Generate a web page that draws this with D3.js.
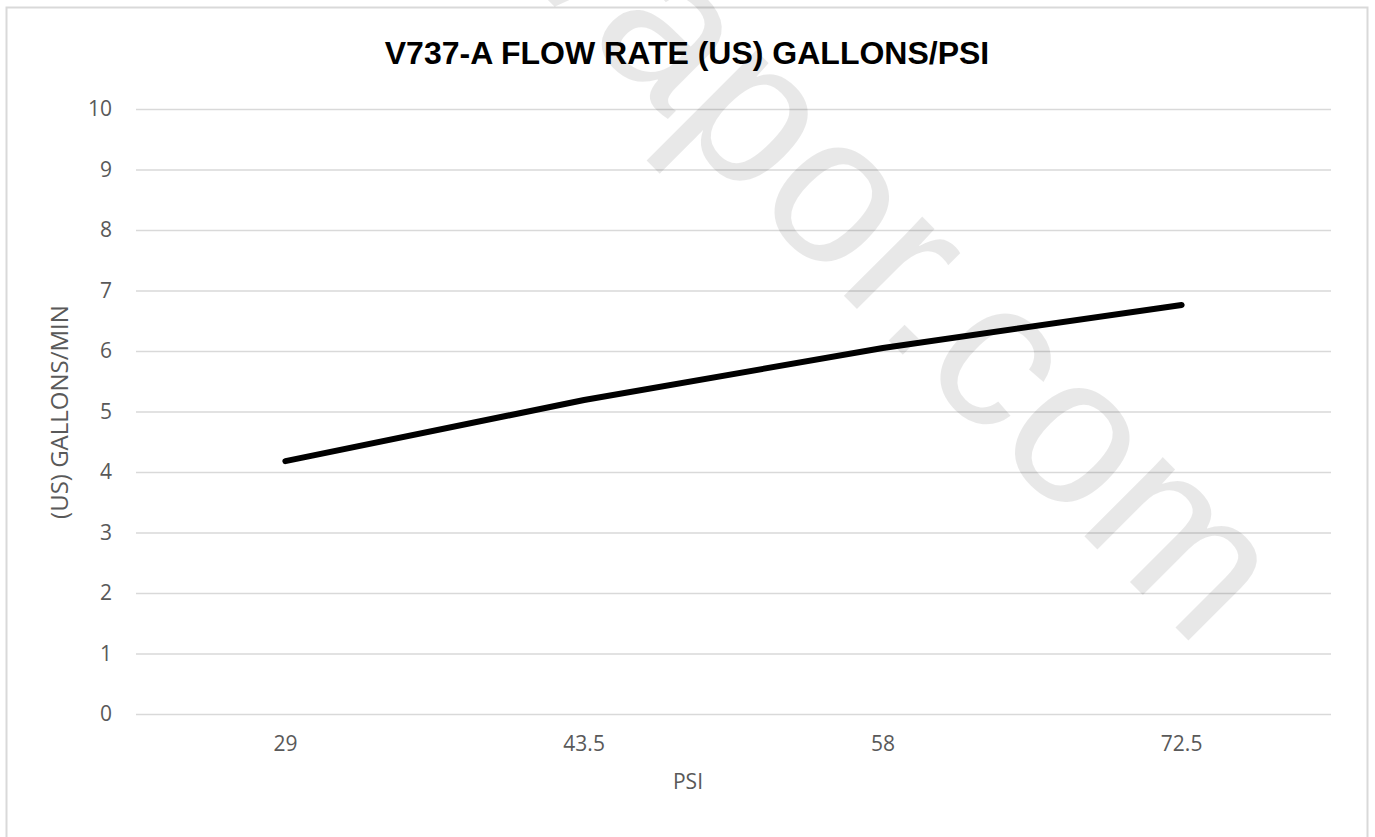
<!DOCTYPE html>
<html><head><meta charset="utf-8">
<script src="https://cdn.jsdelivr.net/npm/d3@7"></script>
<style>body{margin:0;background:#fff}svg{display:block}</style>
</head><body>
<script>
const categories = ["29", "43.5", "58", "72.5"];
const flowValues = [4.18, 5.19, 6.05, 6.76];
const yTicks = [0,1,2,3,4,5,6,7,8,9,10];
const title = "V737-A FLOW RATE (US) GALLONS/PSI";
const xLabel = "PSI";
const yLabel = "(US) GALLONS/MIN";
const watermark = "vapor.com";

const W = 1375, H = 837;
const m = {left:136, right:1331, top:109, bottom:714};
const svg = d3.select("body").append("svg").attr("width", W).attr("height", H);
svg.append("rect").attr("x",6.5).attr("y",7.5).attr("width",1361).attr("height",840)
  .attr("fill","#fff").attr("stroke","#d9d9d9").attr("stroke-width",2);

const x = d3.scaleBand().domain(categories).range([m.left, m.right]).padding(0);
const y = d3.scaleLinear().domain([0,10]).range([m.bottom, m.top]);

const tickFont = "'Open Sans', sans-serif";
const ya = svg.append("g").attr("transform",`translate(${m.left},0)`)
  .call(d3.axisLeft(y).tickValues(yTicks).tickSize(-(m.right-m.left)).tickPadding(24));
ya.select(".domain").remove();
ya.selectAll("line").attr("stroke","#d9d9d9").attr("stroke-width",1.5);
ya.selectAll("text").attr("fill","#595959").style("font-family",tickFont).style("font-size","21px");

const xa = svg.append("g").attr("transform",`translate(0,${m.bottom})`)
  .call(d3.axisBottom(x).tickSize(0).tickPadding(22));
xa.select(".domain").remove();
xa.selectAll("text").attr("fill","#595959").style("font-family",tickFont).style("font-size","21px");

svg.append("text").attr("x",687).attr("y",64).attr("text-anchor","middle")
  .style("font-family","'Liberation Sans', Arial, sans-serif").style("font-weight","bold").style("font-size","32px")
  .attr("fill","#000").text(title);
svg.append("text").attr("x",688).attr("y",789).attr("text-anchor","middle")
  .style("font-family",tickFont).style("font-size","21px").attr("fill","#595959").text(xLabel);
svg.append("text").attr("transform","translate(68,412) rotate(-90)").attr("text-anchor","middle")
  .style("font-family",tickFont).style("font-size","24px").attr("fill","#595959").text(yLabel);

const line = d3.line().x((d,i)=>x(categories[i])+x.bandwidth()/2).y(d=>y(d));
svg.append("path").datum(flowValues).attr("d",line).attr("fill","none")
  .attr("stroke","#000").attr("stroke-width",6).attr("stroke-linecap","round").attr("stroke-linejoin","round");

svg.append("text").attr("transform","translate(510,-38) rotate(45)")
  .style("font-family","'Liberation Sans', Arial, sans-serif").style("font-size","211px")
  .attr("fill","#000").attr("fill-opacity",0.09).text(watermark);
</script>
</body></html>
